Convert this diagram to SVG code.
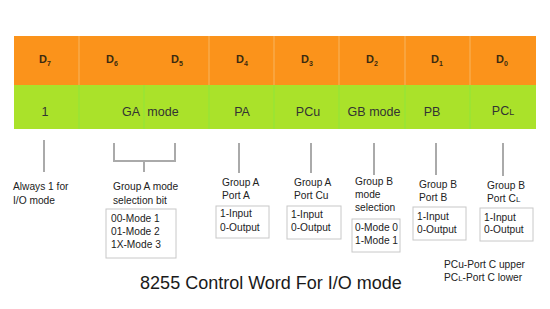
<svg xmlns="http://www.w3.org/2000/svg" width="550" height="309" viewBox="0 0 550 309">
<style>
.hd{font-family:"Liberation Sans",Arial,sans-serif;font-weight:bold;font-size:11px;fill:#3a2a10;text-anchor:middle}
.sub{font-size:7px}
.gl{font-family:"Liberation Sans",Arial,sans-serif;font-size:12.5px;fill:#333;text-anchor:middle}
.t{font-family:"Liberation Sans",Arial,sans-serif;font-size:10.2px;fill:#222}
.ttl{font-family:"Liberation Sans",Arial,sans-serif;font-size:18px;fill:#1a1a1a;text-anchor:middle}
.ln{stroke:#aaaaaa;stroke-width:2;fill:none}
.bx{fill:#fff;stroke:#c8c8c8;stroke-width:1}
.od{stroke:#f7b560;stroke-width:1}
.gd{stroke:#8ee63a;stroke-width:1}
</style>
<rect width="550" height="309" fill="#fff"/>
<g id="table">
<rect x="14" y="36" width="522" height="49" fill="#fb931b"/>
<rect x="14" y="85" width="522" height="44" fill="#aae22a"/>
<g>
<line class="od" x1="79" y1="36" x2="79" y2="85"/>
<line class="od" x1="209" y1="36" x2="209" y2="85"/>
<line class="od" x1="274" y1="36" x2="274" y2="85"/>
<line class="od" x1="339" y1="36" x2="339" y2="85"/>
<line class="od" x1="405" y1="36" x2="405" y2="85"/>
<line class="od" x1="470" y1="36" x2="470" y2="85"/>
<line class="gd" x1="79" y1="85" x2="79" y2="129"/>
<line class="gd" x1="144" y1="85" x2="144" y2="129"/>
<line class="gd" x1="209" y1="85" x2="209" y2="129"/>
<line class="gd" x1="274" y1="85" x2="274" y2="129"/>
<line class="gd" x1="339" y1="85" x2="339" y2="129"/>
<line class="gd" x1="405" y1="85" x2="405" y2="129"/>
<line class="gd" x1="470" y1="85" x2="470" y2="129"/>
</g>
<text class="hd" x="45" y="63">D<tspan class="sub" dy="3">7</tspan></text>
<text class="hd" x="112" y="63">D<tspan class="sub" dy="3">6</tspan></text>
<text class="hd" x="177" y="63">D<tspan class="sub" dy="3">5</tspan></text>
<text class="hd" x="242" y="63">D<tspan class="sub" dy="3">4</tspan></text>
<text class="hd" x="307" y="63">D<tspan class="sub" dy="3">3</tspan></text>
<text class="hd" x="372" y="63">D<tspan class="sub" dy="3">2</tspan></text>
<text class="hd" x="437" y="63">D<tspan class="sub" dy="3">1</tspan></text>
<text class="hd" x="502" y="63">D<tspan class="sub" dy="3">0</tspan></text>
<text class="gl" x="45" y="116">1</text>
<text class="gl" x="131" y="116">GA</text>
<text class="gl" x="163" y="116">mode</text>
<text class="gl" x="242" y="116">PA</text>
<text class="gl" x="308" y="116">PCu</text>
<text class="gl" x="374" y="116">GB mode</text>
<text class="gl" x="432" y="116">PB</text>
<text class="gl" x="503" y="115">PC<tspan font-size="9">L</tspan></text>
</g>
<g id="connectors">
<line class="ln" x1="44" y1="140" x2="44" y2="172"/>
<polyline class="ln" points="114,143 114,161 175,161 175,143"/>
<line class="ln" x1="144" y1="161" x2="144" y2="172"/>
<line class="ln" x1="239" y1="143" x2="239" y2="173"/>
<line class="ln" x1="311" y1="143" x2="311" y2="173"/>
<line class="ln" x1="374" y1="143" x2="374" y2="175"/>
<line class="ln" x1="436" y1="143" x2="436" y2="175"/>
<line class="ln" x1="503" y1="143" x2="503" y2="176"/>
</g>
<g id="d7">
<text class="t" x="13" y="190">Always 1 for</text>
<text class="t" x="13" y="204">I/O mode</text>
</g>
<g id="ga">
<text class="t" x="113" y="190">Group A mode</text>
<text class="t" x="113" y="204">selection bit</text>
<rect class="bx" x="106" y="209" width="70" height="49"/>
<text class="t" x="111" y="222">00-Mode 1</text>
<text class="t" x="111" y="235">01-Mode 2</text>
<text class="t" x="111" y="248">1X-Mode 3</text>
</g>
<g id="pa">
<text class="t" x="222" y="186">Group A</text>
<text class="t" x="222" y="199">Port A</text>
<rect class="bx" x="216" y="206" width="53" height="32"/>
<text class="t" x="220" y="217">1-Input</text>
<text class="t" x="220" y="231">0-Output</text>
</g>
<g id="pcu">
<text class="t" x="294" y="186">Group A</text>
<text class="t" x="294" y="199">Port Cu</text>
<rect class="bx" x="287" y="206" width="54" height="33"/>
<text class="t" x="291" y="218">1-Input</text>
<text class="t" x="291" y="231">0-Output</text>
</g>
<g id="gb">
<text class="t" x="355" y="185">Group B</text>
<text class="t" x="355" y="198">mode</text>
<text class="t" x="355" y="211">selection</text>
<rect class="bx" x="352" y="219" width="48" height="33"/>
<text class="t" x="355" y="231">0-Mode 0</text>
<text class="t" x="355" y="244">1-Mode 1</text>
</g>
<g id="pb">
<text class="t" x="419" y="188">Group B</text>
<text class="t" x="419" y="201">Port B</text>
<rect class="bx" x="413" y="207" width="53" height="33"/>
<text class="t" x="417" y="220">1-Input</text>
<text class="t" x="417" y="233">0-Output</text>
</g>
<g id="pcl">
<text class="t" x="487" y="189">Group B</text>
<text class="t" x="487" y="202">Port C<tspan font-size="8">L</tspan></text>
<rect class="bx" x="480" y="208" width="53" height="33"/>
<text class="t" x="484" y="221">1-Input</text>
<text class="t" x="484" y="233">0-Output</text>
</g>
<g id="legend">
<text class="t" x="444" y="268">PCu-Port C upper</text>
<text class="t" x="444" y="281">PC<tspan font-size="8">L</tspan>-Port C lower</text>
</g>
<g id="title">
<text class="ttl" x="271" y="289">8255 Control Word For I/O mode</text>
</g>
</svg>
